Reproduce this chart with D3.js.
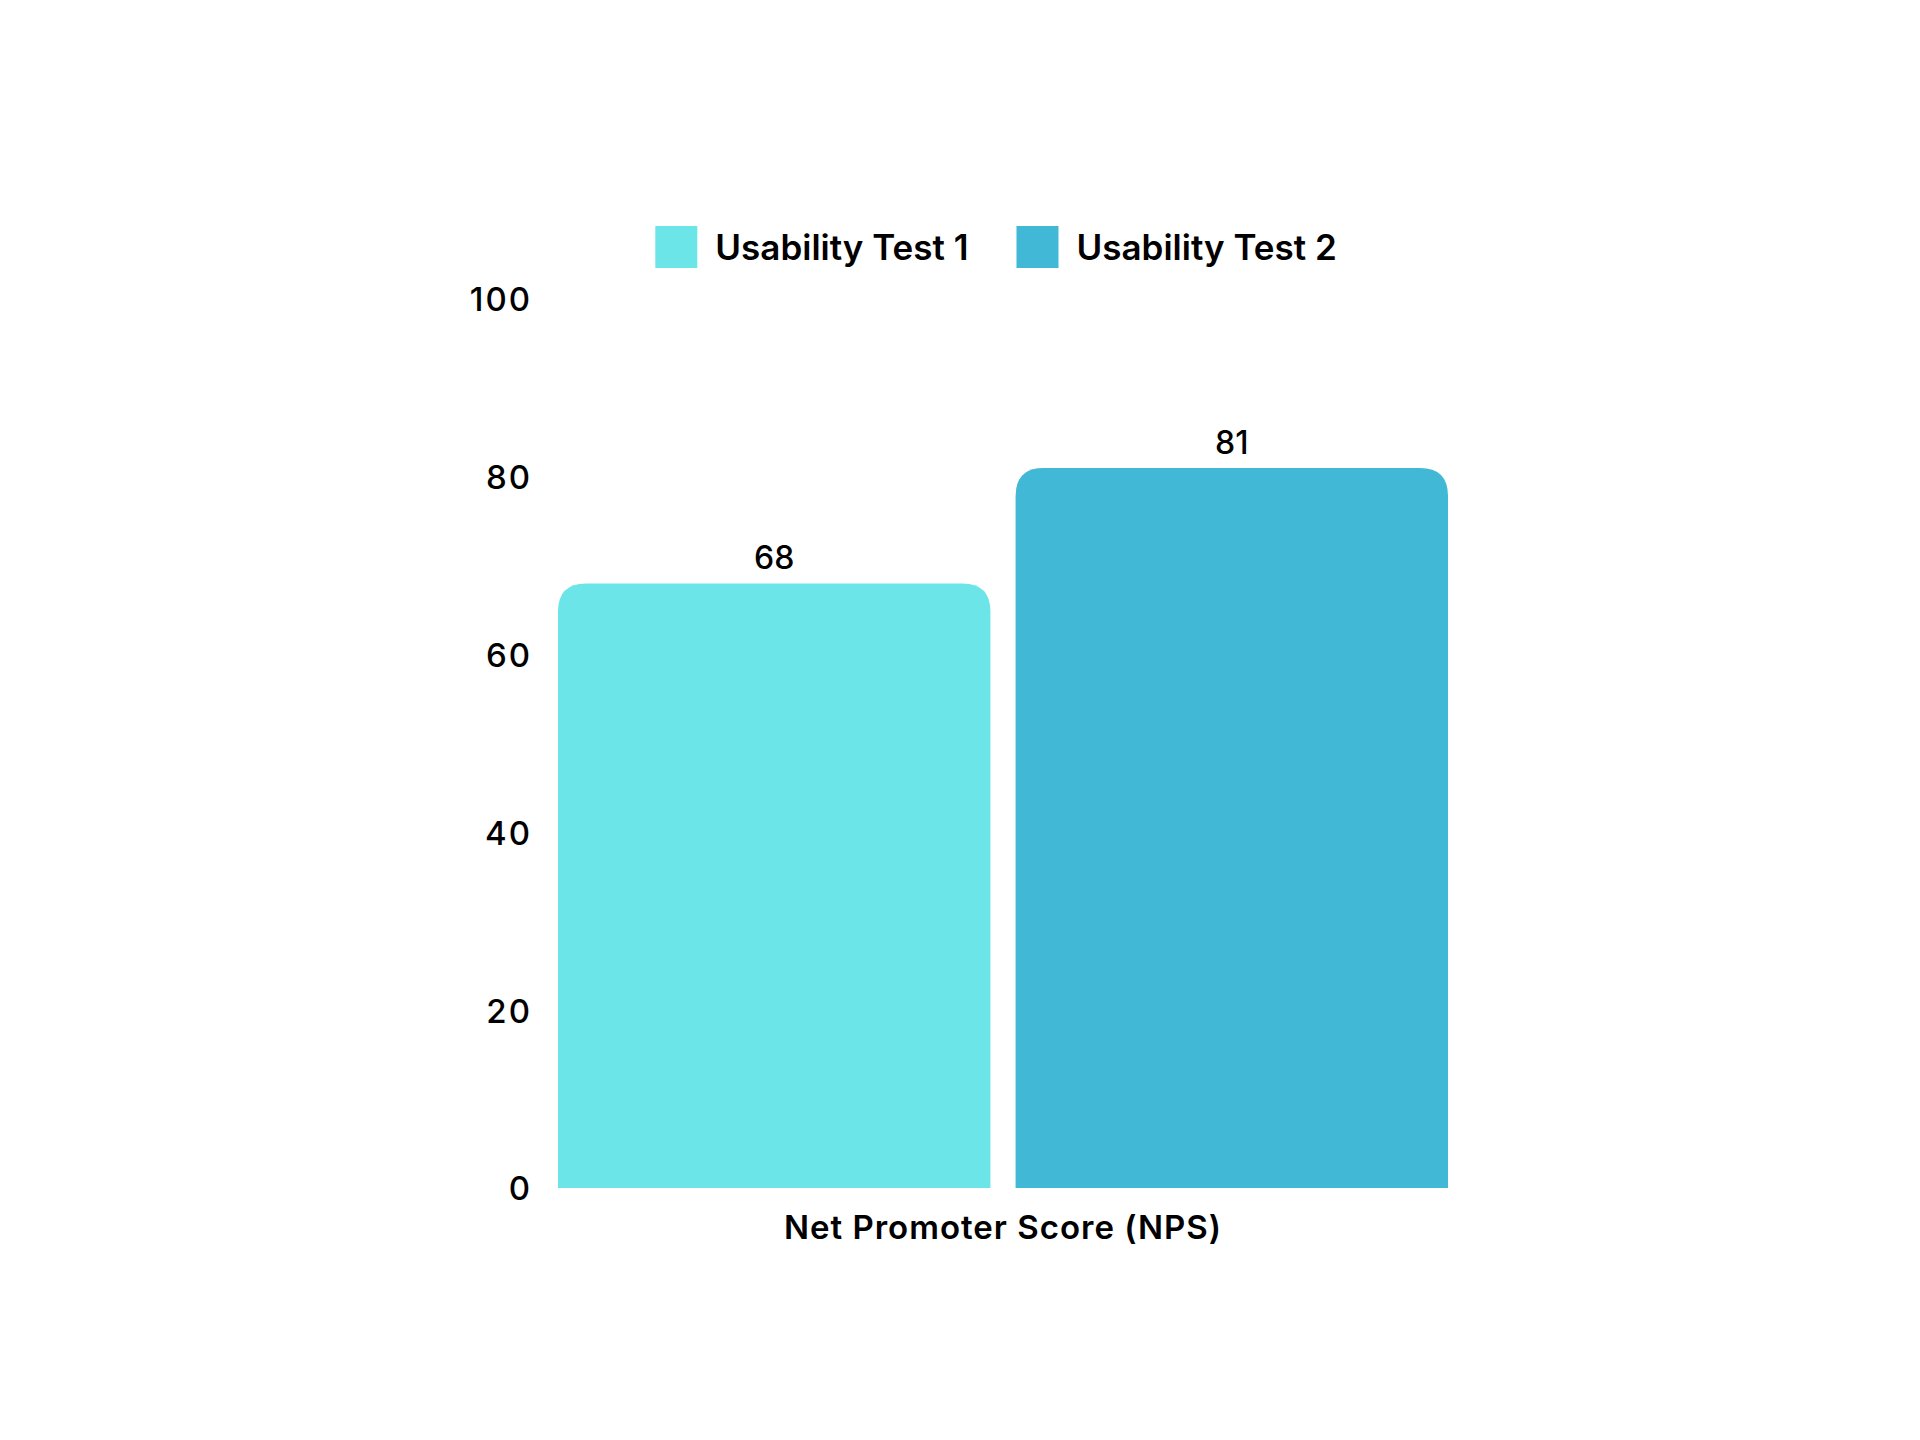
<!DOCTYPE html>
<html>
<head>
<meta charset="utf-8">
<script src="https://cdn.jsdelivr.net/npm/d3@7"></script>
<style>
  html, body { margin: 0; padding: 0; background: #fff; }
  svg text { font-family: Inter, "Noto Sans", sans-serif; fill: #000; }
</style>
</head>
<body>
<div id="chart"></div>
<script>
// Chart data
const categories = ['Net Promoter Score (NPS)'];
const seriesNames = ['Usability Test 1', 'Usability Test 2'];
const seriesValues = [68, 81];
const seriesColors = ['#6CE5E8', '#41B8D5'];
const yTicks = [0, 20, 40, 60, 80, 100];

const width = 1920;
const height = 1440;
const margin = { top: 299, right: 472, bottom: 252, left: 558 };

const svg = d3.select('#chart')
    .append('svg')
    .attr('width', width)
    .attr('height', height);

const innerW = width - margin.left - margin.right;
const innerH = height - margin.top - margin.bottom;

const g = svg.append('g')
    .attr('transform', `translate(${margin.left},${margin.top})`);

// Scales
const x0 = d3.scaleBand()
    .domain(categories)
    .range([0, innerW])
    .padding(0);

const x1 = d3.scaleBand()
    .domain(seriesNames)
    .range([0, x0.bandwidth()])
    .paddingInner(0.055);

const y = d3.scaleLinear()
    .domain([0, 100])
    .range([innerH, 0]);

// Y axis (labels only)
const yAxis = g.append('g')
    .attr('transform', 'translate(-26,0)')
    .call(d3.axisLeft(y).tickValues(yTicks).tickSize(0).tickPadding(0));
yAxis.select('.domain').remove();
yAxis.selectAll('text')
    .attr('font-size', 33)
    .attr('font-weight', 500)
    .attr('letter-spacing', 2)
    .attr('dy', '0.36em');

// X axis label
const xAxis = g.append('g')
    .attr('transform', `translate(0,${innerH})`)
    .call(d3.axisBottom(x0).tickSize(0).tickPadding(28));
xAxis.select('.domain').remove();
xAxis.selectAll('text')
    .attr('font-size', 33)
    .attr('font-weight', 600)
    .attr('letter-spacing', 1)
    .attr('dy', '0.71em');

// Bars with rounded top corners
const r = 28;
function topRounded(x, yTop, w, yBottom) {
    const rr = Math.min(r, w / 2, (yBottom - yTop));
    return `M${x},${yBottom}` +
        `V${yTop + rr}` +
        `Q${x},${yTop} ${x + rr},${yTop}` +
        `H${x + w - rr}` +
        `Q${x + w},${yTop} ${x + w},${yTop + rr}` +
        `V${yBottom}Z`;
}

const barData = seriesNames.map((name, i) => ({
    category: categories[0],
    name: name,
    value: seriesValues[i],
    color: seriesColors[i]
}));

const bars = g.append('g')
    .selectAll('g')
    .data(barData)
    .enter()
    .append('g');

bars.append('path')
    .attr('d', d => topRounded(
        x0(d.category) + x1(d.name), y(d.value), x1.bandwidth(), y(0)))
    .attr('fill', d => d.color);

bars.append('text')
    .attr('x', d => x0(d.category) + x1(d.name) + x1.bandwidth() / 2)
    .attr('y', d => y(d.value) - 14)
    .attr('text-anchor', 'middle')
    .attr('font-size', 32)
    .attr('font-weight', 500)
    .text(d => d.value);

// Legend
const legend = svg.append('g')
    .attr('class', 'legend');

const swatch = 42;
let lx = 0;
const legendItems = legend.selectAll('g')
    .data(seriesNames)
    .enter()
    .append('g');

legendItems.append('rect')
    .attr('width', swatch)
    .attr('height', swatch)
    .attr('fill', (d, i) => seriesColors[i]);

legendItems.append('text')
    .attr('x', swatch + 18)
    .attr('y', swatch / 2)
    .attr('dy', '0.36em')
    .attr('font-size', 35)
    .attr('font-weight', 600)
    .text(d => d);

legendItems.each(function() {
    const item = d3.select(this);
    item.attr('transform', `translate(${lx},0)`);
    lx += this.getBBox().width + 48;
});
const legendW = lx - 48;
legend.attr('transform', `translate(${996 - legendW / 2},226)`);
</script>
</body>
</html>
